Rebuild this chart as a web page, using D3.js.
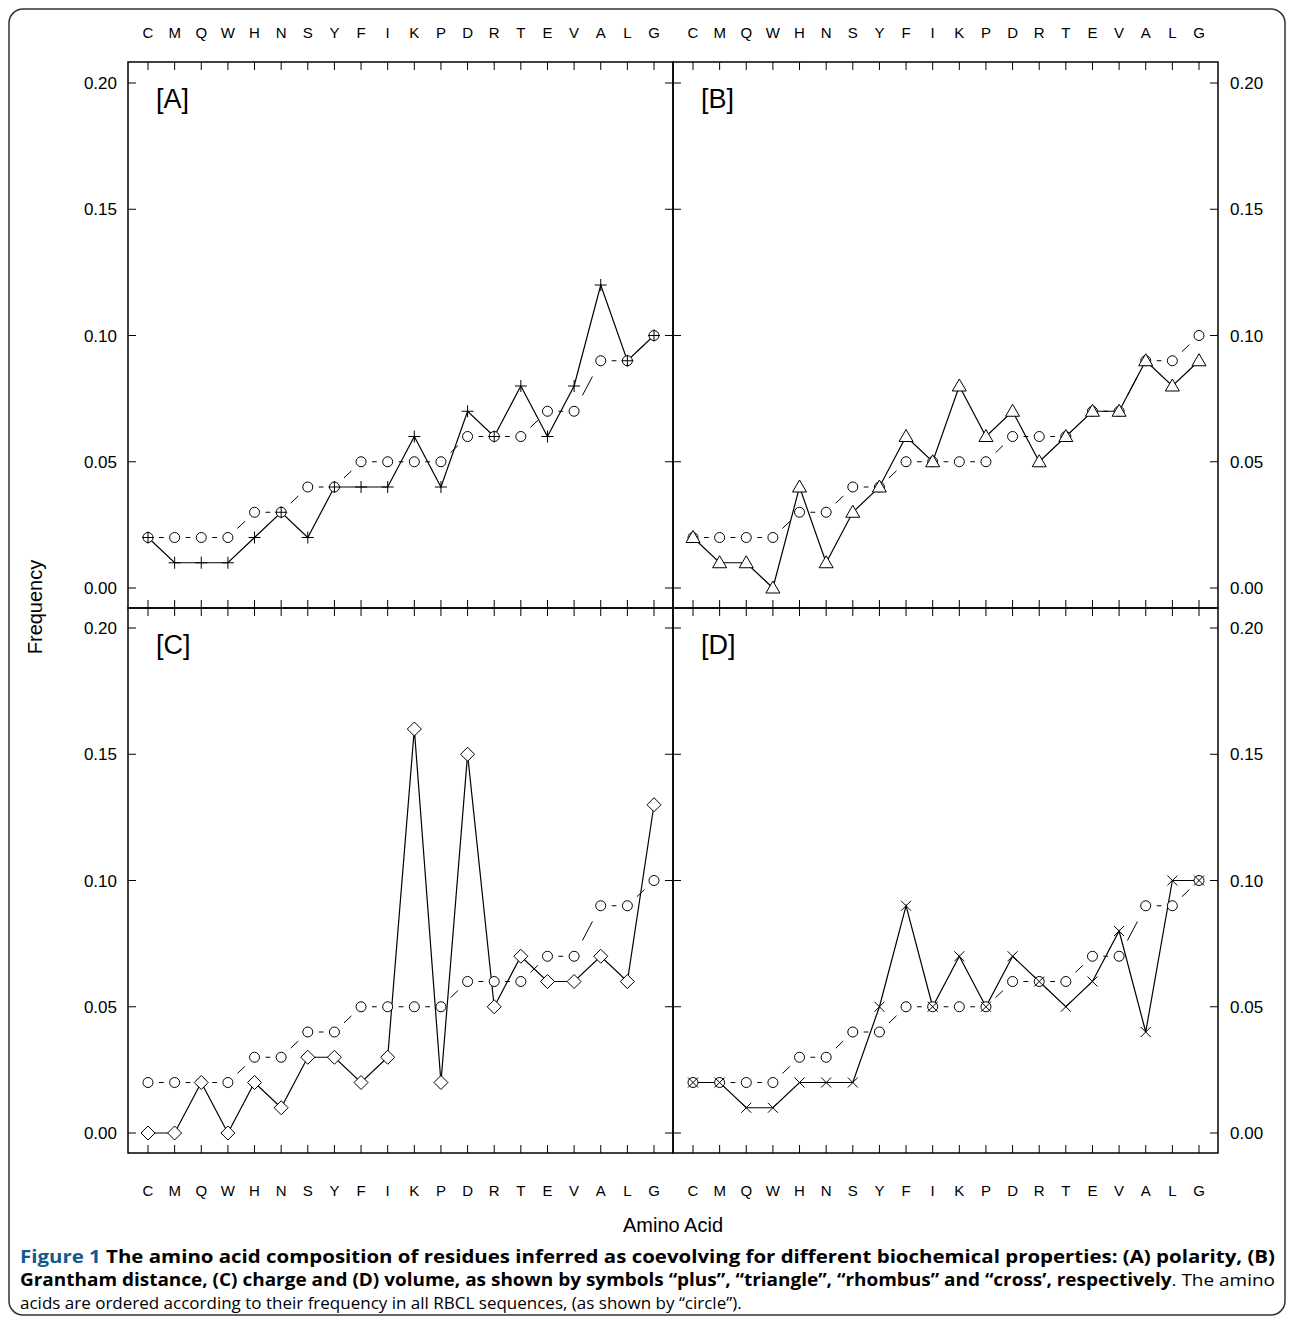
<!DOCTYPE html><html><head><meta charset="utf-8"><script src="https://cdn.jsdelivr.net/npm/d3@7"></script>
<style>body{margin:0;background:#fff}svg{font-family:"Liberation Sans",Arial,sans-serif}</style></head><body>
<svg id="c" width="1293" height="1324"></svg>
<script>
const categories=["C","M","Q","W","H","N","S","Y","F","I","K","P","D","R","T","E","V","A","L","G"];
const yTicks=[0,0.05,0.10,0.15,0.20];
const background=[.02,.02,.02,.02,.03,.03,.04,.04,.05,.05,.05,.05,.06,.06,.06,.07,.07,.09,.09,.10];
const polarity=[.02,.01,.01,.01,.02,.03,.02,.04,.04,.04,.06,.04,.07,.06,.08,.06,.08,.12,.09,.10];
const grantham=[.02,.01,.01,0,.04,.01,.03,.04,.06,.05,.08,.06,.07,.05,.06,.07,.07,.09,.08,.09];
const charge=[0,0,.02,0,.02,.01,.03,.03,.02,.03,.16,.02,.15,.05,.07,.06,.06,.07,.06,.13];
const volume=[.02,.02,.01,.01,.02,.02,.02,.05,.09,.05,.07,.05,.07,.06,.05,.06,.08,.04,.10,.10];
const panels=[
 {label:"[A]",data:polarity,sym:"plus",col:0,row:0},
 {label:"[B]",data:grantham,sym:"tri",col:1,row:0},
 {label:"[C]",data:charge,sym:"rhomb",col:0,row:1},
 {label:"[D]",data:volume,sym:"cross",col:1,row:1}];
const svg=d3.select("#c");
svg.append("rect").attr("x",9).attr("y",9).attr("width",1276).attr("height",1306).attr("rx",14).attr("fill","none").attr("stroke","#333").attr("stroke-width",1.5);
const L=128,M=673,R=1218,T=62,MY=608,B=1153;
function sym(g,type,x,y){
 const s=6;
 if(type==="plus")g.append("path").attr("d",`M${x-s},${y}H${x+s}M${x},${y-s}V${y+s}`);
 else if(type==="cross")g.append("path").attr("d",`M${x-5},${y-5}L${x+5},${y+5}M${x-5},${y+5}L${x+5},${y-5}`);
 else if(type==="tri")g.append("path").attr("d",`M${x},${y-7}L${x+7},${y+5}L${x-7},${y+5}Z`).attr("fill","#fff");
 else if(type==="rhomb")g.append("path").attr("d",`M${x},${y-7}L${x+7},${y}L${x},${y+7}L${x-7},${y}Z`).attr("fill","#fff");
}
panels.forEach(p=>{
 const x0=p.col?M:L, x1=p.col?R:M, y0=p.row?MY:T, y1=p.row?B:MY;
 const x=d3.scalePoint().domain(categories).range([x0+20,x1-19]);
 const y=d3.scaleLinear().domain([0,0.2]).range(p.row?[1133,628]:[588,83]);
 const g=svg.append("g").attr("stroke","#000").attr("fill","none");
 g.append("rect").attr("x",x0).attr("y",y0).attr("width",x1-x0).attr("height",y1-y0).attr("stroke-width",1.5);
 const tk=p.row?y1:y0, dir=p.row?-1:1;
 categories.forEach(c=>g.append("line").attr("x1",x(c)).attr("x2",x(c)).attr("y1",tk).attr("y2",tk+dir*8).attr("stroke-width",1));
 if(!p.row) categories.forEach(c=>g.append("line").attr("x1",x(c)).attr("x2",x(c)).attr("y1",y1-8).attr("y2",y1+8).attr("stroke-width",1));
 yTicks.forEach(t=>{
  if(p.col===0){g.append("line").attr("x1",x0).attr("x2",x0+8).attr("y1",y(t)).attr("y2",y(t));
   g.append("line").attr("x1",x1-8).attr("x2",x1+8).attr("y1",y(t)).attr("y2",y(t));
   svg.append("text").attr("x",117).attr("y",y(t)+6).attr("text-anchor","end").attr("font-size",17).text(t.toFixed(2));}
  else{g.append("line").attr("x1",x1-8).attr("x2",x1).attr("y1",y(t)).attr("y2",y(t));
   svg.append("text").attr("x",1230).attr("y",y(t)+6).attr("font-size",17).text(t.toFixed(2));}
 });
 for(let i=0;i<background.length-1;i++){
  const ax=x(categories[i]),ay=y(background[i]),bx=x(categories[i+1]),by=y(background[i+1]);
  const mx=(ax+bx)/2,my=(ay+by)/2,dx=bx-ax,dy=by-ay,len=Math.hypot(dx,dy),h=(len/2-9)/len*0.55;
  g.append("line").attr("x1",mx-dx*h).attr("y1",my-dy*h).attr("x2",mx+dx*h).attr("y2",my+dy*h).attr("stroke-width",1);
 }
 const ln=d3.line().x((d,i)=>x(categories[i])).y(d=>y(d));
 g.append("path").attr("d",ln(p.data)).attr("stroke-width",1.2);
 background.forEach((d,i)=>g.append("circle").attr("cx",x(categories[i])).attr("cy",y(d)).attr("r",5).attr("fill","#fff").attr("stroke-width",1));
 p.data.forEach((d,i)=>sym(g,p.sym,x(categories[i]),y(d)));
 svg.append("text").attr("x",x0+28).attr("y",y0+46).attr("font-size",27).text(p.label);
 categories.forEach(c=>{
  if(!p.row)svg.append("text").attr("x",x(c)).attr("y",38).attr("text-anchor","middle").attr("font-size",15).text(c);
  else svg.append("text").attr("x",x(c)).attr("y",1196).attr("text-anchor","middle").attr("font-size",15).text(c);
 });
});
svg.append("text").attr("transform","translate(42,607) rotate(-90)").attr("text-anchor","middle").attr("font-size",20).text("Frequency");
svg.append("text").attr("x",673).attr("y",1232).attr("text-anchor","middle").attr("font-size",20).text("Amino Acid");
const cap=svg.append("g").attr("font-family","'Open Sans',sans-serif").attr("font-size",17);
const t1=cap.append("text").attr("x",20).attr("y",1263).attr("textLength",1255).attr("lengthAdjust","spacingAndGlyphs");
t1.append("tspan").attr("font-weight","bold").attr("fill","#0f5a8c").text("Figure 1 ");
t1.append("tspan").attr("font-weight","bold").text("The amino acid composition of residues inferred as coevolving for different biochemical properties: (A) polarity, (B)");
const t2=cap.append("text").attr("x",20).attr("y",1286).attr("textLength",1255).attr("lengthAdjust","spacingAndGlyphs");
t2.append("tspan").attr("font-weight","bold").text("Grantham distance, (C) charge and (D) volume, as shown by symbols “plus”, “triangle”, “rhombus” and “cross’, respectively");
t2.append("tspan").text(". The amino");
cap.append("text").attr("x",20).attr("y",1309).text("acids are ordered according to their frequency in all RBCL sequences, (as shown by “circle”).");
</script></body></html>
